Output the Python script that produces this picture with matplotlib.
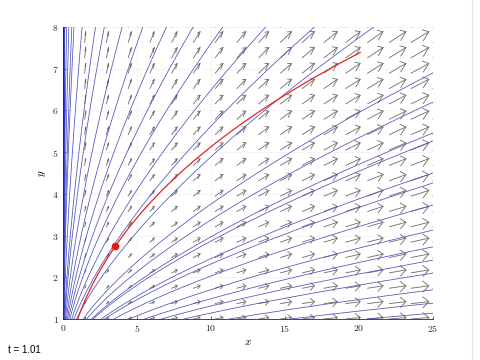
import numpy as np
import matplotlib
matplotlib.use('Agg')
import matplotlib.pyplot as plt
from matplotlib.lines import Line2D

plt.rcParams['mathtext.fontset'] = 'cm'

# time shown in the frame
t_now = 1.01
t_end = 2.0

# quiver grid
x_grid = np.linspace(0, 25, 18)
y_grid = np.linspace(1, 8, 20)

# where the blue streamlines leave the plot
top_exit_x = [0.12, 0.25, 0.4, 0.6, 0.75, 1.3, 2.2, 2.8, 4.0, 5.4, 7.0, 8.8, 10.8, 13.7, 17.0, 21.0]
right_exit_y = [6.9, 6.2, 5.46, 5.27, 4.5, 4.26, 3.73, 3.13, 2.73, 2.41, 2.1, 1.7, 1.38, 1.14]

# particle start point
x_start, y_start = 1.0, 1.0

x_ticks = [0, 5, 10, 15, 20, 25]
y_ticks = [1, 2, 3, 4, 5, 6, 7, 8]


def vel(x, y, t):
    return x * (1 + t / 2), y


fig = plt.figure(figsize=(4.8, 3.6), dpi=100)
ax = fig.add_axes([0.131, 0.114, 0.771, 0.811])

# --- quiver, matlab style (autoscale + open heads) ---
X, Y = np.meshgrid(x_grid, y_grid)
U, V = vel(X, Y, t_now)
n, m = len(x_grid), len(y_grid)
delx = (x_grid.max() - x_grid.min()) / n
dely = (y_grid.max() - y_grid.min()) / m
ln = np.sqrt((U**2 + V**2) / (delx**2 + dely**2))
sc = 0.9 / ln.max()
u = (U * sc).ravel(); v = (V * sc).ravel()
x = X.ravel(); y = Y.ravel()
a, b, eps = 0.33, 0.33, 1e-12
nan = np.full_like(x, np.nan)
sx = np.vstack([x, x + u, nan]).T.ravel()
sy = np.vstack([y, y + v, nan]).T.ravel()
hx = np.vstack([x + u - a * (u + b * (v + eps)), x + u, x + u - a * (u - b * (v + eps)), nan]).T.ravel()
hy = np.vstack([y + v - a * (v - b * (u + eps)), y + v, y + v - a * (v + b * (u + eps)), nan]).T.ravel()
ax.plot(sx, sy, color='0.42', lw=0.6)
ax.plot(hx, hy, color='0.42', lw=0.6)

# --- streamlines at t_now: y = c * x^k ---
k = 1 / (1 + t_now / 2)
ys = np.linspace(1, 8, 300)
ax.plot(np.zeros_like(ys), ys, color=(0.1, 0.1, 1.0), lw=3.0, solid_capstyle='butt')
for xe in top_exit_x:
    ax.plot(xe * (ys / 8.0) ** (1 / k), ys, color=(0.3, 0.32, 0.72), lw=0.55)
for ye in right_exit_y:
    ax.plot(25.0 * (ys / ye) ** (1 / k), ys, color=(0.3, 0.32, 0.72), lw=0.55)

# --- pathline of the particle ---
T = np.linspace(0, t_end, 300)
px = x_start * np.exp(T + T**2 / 4)
py = y_start * np.exp(T)
ax.plot(px, py, color=(0.88, 0.15, 0.15), lw=0.9)
ax.plot(x_start * np.exp(t_now + t_now**2 / 4), y_start * np.exp(t_now), 'o',
        color=(0.88, 0.1, 0.1), ms=4.5)

ax.set_xlim(0, 25)
ax.set_ylim(1, 8)
ax.set_xticks(x_ticks)
ax.set_yticks(y_ticks)
ax.set_xticklabels([f'${v}$' for v in x_ticks])
ax.set_yticklabels([f'${v}$' for v in y_ticks])
ax.tick_params(direction='in', length=2.5, width=0.5, labelsize=7, colors='0.15', pad=3)
ax.grid(True, color='0.94', lw=0.5)
ax.set_axisbelow(True)
for s in ['top', 'right']:
    ax.spines[s].set_visible(False)
for s in ['bottom', 'left']:
    ax.spines[s].set_color('0.15')
    ax.spines[s].set_linewidth(0.6)
ax.set_xlabel('$x$', fontsize=8, labelpad=2)
ax.set_ylabel('$y$', fontsize=8, labelpad=3)

fig.text(0.017, 0.028, 't = 1.01', fontsize=7, family='Liberation Sans', va='center')
fig.add_artist(Line2D([0.984, 0.984], [0, 1], transform=fig.transFigure, color='0.88', lw=0.8))

fig.savefig('out.png', dpi=100)
